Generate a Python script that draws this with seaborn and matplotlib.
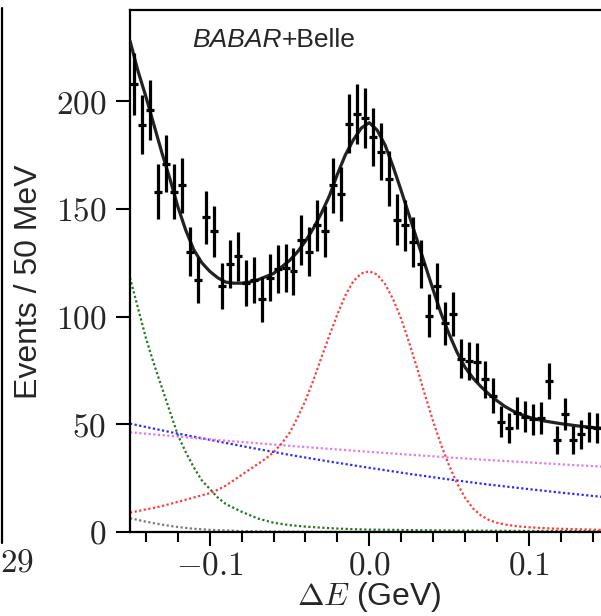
import numpy as np
import pandas as pd
import matplotlib
matplotlib.use("Agg")
import matplotlib.pyplot as plt
import seaborn as sns
from matplotlib.ticker import MultipleLocator, FuncFormatter
from matplotlib.lines import Line2D

sns.set_theme(style="white")
plt.rcParams["font.family"] = ["Liberation Sans", "DejaVu Sans"]
plt.rcParams["mathtext.fontset"] = "cm"

# ---------------- data ----------------
bin_centers = [-0.1475, -0.1425, -0.1375, -0.1325, -0.1275, -0.1225, -0.1175, -0.1125,
               -0.1075, -0.1025, -0.0975, -0.0925, -0.0875, -0.0825, -0.0775, -0.0725,
               -0.0675, -0.0625, -0.0575, -0.0525, -0.0475, -0.0425, -0.0375, -0.0325,
               -0.0275, -0.0225, -0.0175, -0.0125, -0.0075, -0.0025, 0.0025, 0.0075,
               0.0125, 0.0175, 0.0225, 0.0275, 0.0325, 0.0375, 0.0425, 0.0475,
               0.0525, 0.0575, 0.0625, 0.0675, 0.0725, 0.0775, 0.0825, 0.0875,
               0.0925, 0.0975, 0.1025, 0.1075, 0.1125, 0.1175, 0.1225, 0.1275,
               0.1325, 0.1375, 0.1425, 0.1475]
events = [208, 189, 196, 158, 171, 158, 161, 130, 117, 146,
          139.5, 114, 124.5, 128, 115.5, 117, 108, 118, 122, 122.5,
          121, 135.5, 130, 142.3, 139.5, 161, 157, 189.5, 194, 192,
          183.3, 176.6, 164, 145, 142.3, 134.5, 124.4, 100.3, 114.3, 96.8,
          101.2, 80.5, 79.4, 78.7, 70.8, 63.3, 51.2, 48.3, 55.2, 53.5,
          52.3, 53, 70, 42.9, 54.8, 42.9, 45.3, 48.7, 48.3, 47]
errors = [14.4, 13.7, 14.0, 12.6, 13.1, 12.6, 12.7, 11.4, 10.8, 12.1,
          11.8, 10.7, 11.2, 11.3, 10.7, 10.8, 10.4, 10.9, 11.0, 11.1,
          11.0, 11.6, 11.4, 11.9, 11.8, 12.7, 12.5, 13.8, 13.9, 13.9,
          13.5, 13.3, 12.8, 12.0, 11.9, 11.6, 11.2, 10.0, 10.7, 9.8,
          10.1, 9.0, 8.9, 8.9, 8.4, 8.0, 7.2, 6.9, 7.4, 7.3,
          7.2, 7.3, 8.4, 6.5, 7.4, 6.5, 6.7, 7.0, 7.0, 6.9]
bin_half_width = 0.0025

curve_x = [-0.150, -0.145, -0.140, -0.135, -0.130, -0.125, -0.120, -0.115, -0.110, -0.105,
           -0.100, -0.095, -0.090, -0.085, -0.080, -0.075, -0.070, -0.065, -0.060, -0.055,
           -0.050, -0.045, -0.040, -0.035, -0.030, -0.025, -0.020, -0.015, -0.010, -0.005,
           0.000, 0.005, 0.010, 0.015, 0.020, 0.025, 0.030, 0.035, 0.040, 0.045,
           0.050, 0.055, 0.060, 0.065, 0.070, 0.075, 0.080, 0.085, 0.090, 0.095,
           0.100, 0.105, 0.110, 0.115, 0.120, 0.125, 0.130, 0.135, 0.140, 0.145, 0.150]
total_fit = [228, 214, 202, 189, 176, 164, 151, 140, 131, 125,
             121, 118, 116, 115.5, 115.5, 116, 117, 118.5, 120, 123,
             126, 130, 135, 141, 148, 156, 166, 175, 182, 187.5,
             190, 186.5, 179.5, 169.5, 158.5, 147, 135.5, 124, 112.5, 101.5,
             92, 83.5, 76.5, 71.5, 67.5, 64, 61, 58.3, 56.2, 54.6,
             53.3, 52.3, 51.5, 50.9, 50.3, 49.8, 49.3, 48.9, 48.5, 48.2, 48]
signal = [9, 9.7, 10.5, 11.2, 12, 13, 14, 15, 16, 17,
          18, 19.6, 21.5, 24, 26.5, 29, 31.5, 34, 37, 41,
          46, 53, 61, 70.5, 81, 91.2, 101, 109.8, 116.4, 120,
          121, 119.5, 115, 108, 99, 88, 76, 63.5, 51.5, 40.5,
          31, 22.7, 16, 11, 7.7, 5.6, 4.3, 3.5, 2.9, 2.5,
          2.2, 2.0, 1.8, 1.6, 1.5, 1.4, 1.3, 1.2, 1.1, 1.0, 1.0]

lin_x = [-0.150, -0.125, -0.100, -0.075, -0.050, -0.025, 0.000, 0.025, 0.050, 0.075, 0.100, 0.125, 0.150]
bkg_blue = [50.3, 46.4, 42.8, 39.2, 35.8, 32.7, 29.8, 27.0, 24.4, 22.0, 19.9, 17.9, 16.0]
bkg_violet = [46.3, 44.6, 43.0, 41.5, 40.0, 38.6, 37.2, 35.9, 34.6, 33.4, 32.3, 31.2, 30.2]

green_x = [-0.150, -0.145, -0.140, -0.135, -0.130, -0.125, -0.120, -0.115, -0.110, -0.105,
           -0.100, -0.095, -0.090, -0.085, -0.080, -0.070, -0.060, -0.050, -0.040, -0.030,
           -0.020, -0.010, 0.000, 0.050, 0.100, 0.150]
bkg_green = [118, 104, 90, 78, 67, 56, 45, 37, 30, 24,
             20, 16, 13, 11.2, 9.4, 6.3, 4.3, 3.2, 2.5, 2.0,
             1.6, 1.3, 1.1, 0.7, 0.5, 0.4]

gray_x = [-0.150, -0.140, -0.130, -0.120, -0.110, -0.100, -0.090, -0.080, -0.060, -0.030, 0.000, 0.150]
bkg_gray = [6.4, 4.8, 3.4, 2.3, 1.5, 1.0, 0.7, 0.45, 0.2, 0.08, 0.03, 0.0]

x_ticks = [-0.1, 0.0, 0.1]
x_ticklabels = [r"$-0.1$", r"$0.0$", r"$0.1$"]
y_ticks = [0, 50, 100, 150, 200]

# ---------------- figure ----------------
W, H = 601, 616
fig = plt.figure(figsize=(W / 100, H / 100), dpi=100)
ax_left, ax_bottom = 130 / W, (H - 532) / H
ax_w, ax_h = 478.5 / W, 522 / H
ax = fig.add_axes([ax_left, ax_bottom, ax_w, ax_h])

dot = (0, (1, 1.1))
comp = [
    (gray_x, bkg_gray, "#7a7a7a"),
    (green_x, bkg_green, "#1f7a1f"),
    (lin_x, bkg_blue, "#2a2aff"),
    (lin_x, bkg_violet, "#e37be3"),
    (curve_x, signal, "#ff3b3b"),
]
for xs, ys, col in comp:
    df = pd.DataFrame({"x": xs, "y": ys})
    sns.lineplot(data=df, x="x", y="y", ax=ax, color=col, lw=1.6,
                 linestyle=dot, sort=False, zorder=2)

df_tot = pd.DataFrame({"x": curve_x, "y": total_fit})
sns.lineplot(data=df_tot, x="x", y="y", ax=ax, color="#222222", lw=2.3, sort=False, zorder=3)

ax.errorbar(bin_centers, events, yerr=errors, xerr=bin_half_width, fmt="none",
            ecolor="black", elinewidth=2.3, capsize=0, zorder=4)

ax.set_xlim(-0.15, 0.15)
ax.set_ylim(0, 242.3)

ax.xaxis.set_major_locator(plt.FixedLocator(x_ticks))
ax.set_xticklabels(x_ticklabels)
ax.xaxis.set_minor_locator(MultipleLocator(0.02))
ax.yaxis.set_major_locator(plt.FixedLocator(y_ticks))
ax.yaxis.set_major_formatter(FuncFormatter(lambda v, p: r"$%d$" % v))

ax.tick_params(axis="both", which="major", direction="out", length=10, width=1.5,
               labelsize=24, color="black", pad=3, left=True, bottom=True)
ax.tick_params(axis="y", which="major", pad=7)
ax.tick_params(axis="x", which="minor", direction="out", length=7, width=1.5,
               color="black", bottom=True)
for side in ["left", "top", "bottom", "right"]:
    ax.spines[side].set_color("black")
    ax.spines[side].set_linewidth(1.6)

ax.set_xlabel(r"$\Delta E$ (GeV)", fontsize=23, va="top")
ax.xaxis.set_label_coords(0.5, -0.092)
ax.set_ylabel("Events / 50 MeV", fontsize=23)
ax.yaxis.set_label_coords(-0.18, 0.48)

# experiment label
t1 = fig.text(192 / W, 1 - 47 / H, "BABAR", fontsize=19, style="italic", va="baseline", ha="left")
ax.annotate("+Belle", xy=(1, 0), xycoords=t1, va="bottom", ha="left", fontsize=19,
            annotation_clip=False)

# edge of the neighbouring panel
fig.add_artist(Line2D([2 / W, 2 / W], [1 - 8 / H, 1 - 543 / H], transform=fig.transFigure,
                      color="black", lw=1.6))
fig.text(0 / W, 1 - 548 / H, r"$29$", fontsize=24, va="top", ha="left")

fig.savefig("out.png", dpi=100)
